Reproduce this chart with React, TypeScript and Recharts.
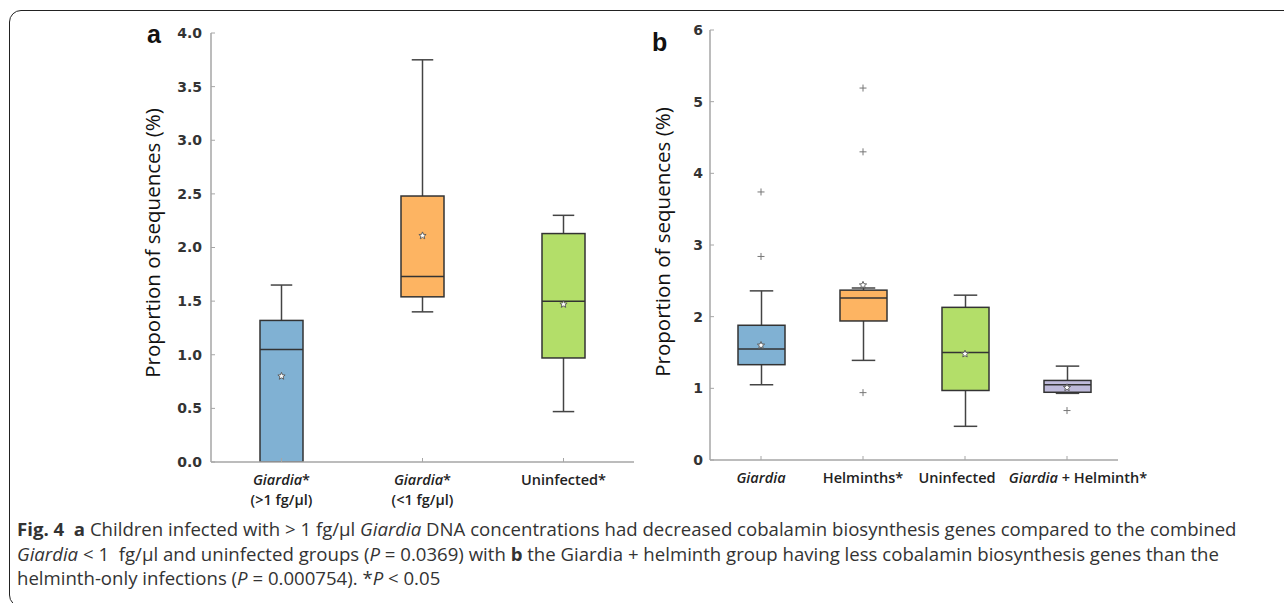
import React from 'react';
import { ComposedChart, Bar, Scatter, XAxis, YAxis } from 'recharts';

// panel a
const catsA = ['Giardia >1', 'Giardia <1', 'Uninfected'];
const labelsA: [string, string, string][] = [
  ['Giardia', '*', '(>1 fg/µl)'],
  ['Giardia', '*', '(<1 fg/µl)'],
  ['', 'Uninfected*', ''],
];
const loA = [0, 1.4, 0.47];
const q1A = [0, 1.54, 0.97];
const medA = [1.05, 1.73, 1.5];
const q3A = [1.32, 2.48, 2.13];
const hiA = [1.65, 3.75, 2.3];
const meanA = [0.8, 2.11, 1.47];
const colorsA = ['#80b1d3', '#fdb462', '#b3de69'];
const ticksA = [0, 0.5, 1, 1.5, 2, 2.5, 3, 3.5, 4];

// panel b
const catsB = ['Giardia', 'Helminths', 'Uninfected', 'Giardia + Helminth'];
const labelsB: [string, string, string][] = [
  ['Giardia', '', ''],
  ['', 'Helminths*', ''],
  ['', 'Uninfected', ''],
  ['Giardia', ' + Helminth*', ''],
];
const loB = [1.05, 1.39, 0.47, 0.93];
const q1B = [1.33, 1.94, 0.97, 0.945];
const medB = [1.55, 2.26, 1.5, 1.05];
const q3B = [1.88, 2.37, 2.13, 1.11];
const hiB = [2.36, 2.4, 2.3, 1.31];
const meanB = [1.6, 2.44, 1.48, 1.01];
const outliersB = [[3.74, 2.84], [5.19, 4.3, 0.94], [], [0.69]];
const colorsB = ['#80b1d3', '#fdb462', '#b3de69', '#bebada'];
const ticksB = [0, 1, 2, 3, 4, 5, 6];

// label nudges so the long labels don't collide
const shiftA = [0, 0, 0];
const shiftB = [0, 0, -8, 11];

function buildRows(cats: string[], lo: number[], q1: number[], med: number[], q3: number[], hi: number[], mean: number[], colors: string[], labels: [string, string, string][], shift: number[], outs?: number[][]) {
  return cats.map((name, i) => ({
    name,
    range: [lo[i], hi[i]],
    lo: lo[i], q1: q1[i], med: med[i], q3: q3[i], hi: hi[i],
    mean: mean[i],
    color: colors[i],
    label: labels[i],
    shift: shift[i],
    o1: outs?.[i]?.[0] ?? null,
    o2: outs?.[i]?.[1] ?? null,
    o3: outs?.[i]?.[2] ?? null,
  }));
}

const dataA = buildRows(catsA, loA, q1A, medA, q3A, hiA, meanA, colorsA, labelsA, shiftA);
const dataB = buildRows(catsB, loB, q1B, medB, q3B, hiB, meanB, colorsB, labelsB, shiftB, outliersB);

const AXIS = '#a6a6a6';
const EDGE = '#333';

function BoxShape(props: any) {
  const { x, y, width, height, payload } = props;
  if (x == null || y == null) return null;
  const top = Math.min(y, y + height);
  const bot = Math.max(y, y + height);
  const { lo, hi, q1, q3, med } = payload;
  const px = (v: number) => top + ((hi - v) / (hi - lo)) * (bot - top);
  const cx = x + width / 2;
  const cap = width / 2;
  return (
    <g>
      <line x1={cx} x2={cx} y1={px(hi)} y2={px(q3)} stroke="#444" strokeWidth={1.5} />
      <line x1={cx} x2={cx} y1={px(q1)} y2={px(lo)} stroke="#444" strokeWidth={1.5} />
      <line x1={cx - cap / 2} x2={cx + cap / 2} y1={px(hi)} y2={px(hi)} stroke="#444" strokeWidth={1.5} />
      <line x1={cx - cap / 2} x2={cx + cap / 2} y1={px(lo)} y2={px(lo)} stroke="#444" strokeWidth={1.5} />
      <rect x={x} y={px(q3)} width={width} height={px(q1) - px(q3)} fill={payload.color} stroke={EDGE} strokeWidth={1.5} />
      <line x1={x} x2={x + width} y1={px(med)} y2={px(med)} stroke={EDGE} strokeWidth={1.5} />
    </g>
  );
}

function StarShape(props: any) {
  const { cx, cy } = props;
  if (cx == null || cy == null) return null;
  const pts: string[] = [];
  for (let i = 0; i < 10; i++) {
    const r = i % 2 === 0 ? 3.8 : 1.7;
    const a = -Math.PI / 2 + (i * Math.PI) / 5;
    pts.push(`${cx + r * Math.cos(a)},${cy + r * Math.sin(a)}`);
  }
  return <polygon points={pts.join(' ')} fill="#fff" stroke="#555" strokeWidth={0.9} />;
}

function plusShape(key: string) {
  return (props: any) => {
    const { cx, cy, payload } = props;
    if (payload?.[key] == null || cx == null || cy == null) return null;
    return (
      <g stroke="#777" strokeWidth={1}>
        <line x1={cx - 3.5} x2={cx + 3.5} y1={cy} y2={cy} />
        <line x1={cx} x2={cx} y1={cy - 3.5} y2={cy + 3.5} />
      </g>
    );
  };
}

function CatTick(props: any) {
  const { x, y, payload, rows } = props;
  const row = rows.find((r: any) => r.name === payload.value);
  if (!row) return null;
  const [it, rest, second] = row.label;
  const tx = x + row.shift;
  return (
    <text x={tx} y={y + 25} textAnchor="middle" fontFamily="'Open Sans'" fontSize={14.5} fontWeight={600} fill="#222">
      <tspan>
        {it && <tspan fontStyle="italic">{it}</tspan>}
        {rest && <tspan>{rest}</tspan>}
      </tspan>
      {second && (
        <tspan x={tx} dy={20}>
          {second}
        </tspan>
      )}
    </text>
  );
}

const tickStyle = { fill: '#333', fontSize: 14, fontWeight: 700, fontFamily: 'DejaVu Sans' };

function Panel({ data, ticks, domain, width, height, margin, barSize, fmt, tickMargin }: any) {
  return (
    <ComposedChart width={width} height={height} data={data} margin={margin}>
      <XAxis
        dataKey="name"
        type="category"
        allowDuplicatedCategory={false}
        axisLine={{ stroke: AXIS, strokeWidth: 1.5 }}
        tickLine={{ stroke: AXIS }}
        tickSize={-4}
        tick={<CatTick rows={data} />}
        height={50}
        interval={0}
      />
      <YAxis
        type="number"
        domain={domain}
        ticks={ticks}
        width={40}
        axisLine={{ stroke: AXIS, strokeWidth: 1.5 }}
        tickLine={{ stroke: AXIS }}
        tickSize={-4}
        tickMargin={tickMargin}
        tick={tickStyle}
        tickFormatter={fmt}
        allowDataOverflow
      />
      <Bar dataKey="range" barSize={barSize} shape={<BoxShape />} isAnimationActive={false} />
      <Scatter dataKey="mean" shape={<StarShape />} isAnimationActive={false} />
      <Scatter dataKey="o1" shape={plusShape('o1')} isAnimationActive={false} />
      <Scatter dataKey="o2" shape={plusShape('o2')} isAnimationActive={false} />
      <Scatter dataKey="o3" shape={plusShape('o3')} isAnimationActive={false} />
    </ComposedChart>
  );
}

const yLabelStyle: React.CSSProperties = {
  position: 'absolute',
  width: 320,
  textAlign: 'center',
  fontFamily: "'Open Sans'",
  fontSize: 20.5,
  fontWeight: 500,
  color: '#111',
  transform: 'rotate(-90deg)',
  whiteSpace: 'nowrap',
};

const panelLetter: React.CSSProperties = {
  position: 'absolute',
  fontFamily: 'Liberation Sans',
  fontWeight: 700,
  fontSize: 25,
  color: '#111',
};

const capLine: React.CSSProperties = { whiteSpace: 'nowrap', height: 24.5 };

export default function App() {
  return (
    <div style={{ position: 'absolute', left: 0, top: 0, width: 1284, height: 603, overflow: 'hidden', background: '#fff' }}>
      <div
        style={{
          position: 'absolute',
          left: 9,
          top: 10,
          width: 1300,
          height: 597,
          border: '1.5px solid #222',
          borderRadius: 12,
          boxSizing: 'border-box',
        }}
      />
      <div style={{ position: 'absolute', left: 130, top: 20 }}>
        <Panel
          data={dataA}
          ticks={ticksA}
          domain={[0, 4]}
          width={520}
          height={510}
          margin={{ top: 13, right: 16, left: 41, bottom: 18 }}
          barSize={43}
          tickMargin={13}
          fmt={(v: number) => v.toFixed(1)}
        />
      </div>
      <div style={{ position: 'absolute', left: 640, top: 15 }}>
        <Panel
          data={dataB}
          ticks={ticksB}
          domain={[0, 6]}
          width={560}
          height={510}
          margin={{ top: 15, right: 82, left: 30, bottom: 15 }}
          barSize={47}
          tickMargin={11}
          fmt={(v: number) => String(v)}
        />
      </div>
      <div style={{ ...yLabelStyle, left: 152 - 160, top: 244 - 15 }}>Proportion of sequences (%)</div>
      <div style={{ ...yLabelStyle, left: 662 - 160, top: 243 - 15 }}>Proportion of sequences (%)</div>
      <div style={{ ...panelLetter, left: 147, top: 20 }}>a</div>
      <div style={{ ...panelLetter, left: 652, top: 28 }}>b</div>
      <div
        style={{
          position: 'absolute',
          left: 17,
          top: 517,
          fontFamily: "'Open Sans'",
          fontSize: 18.6,
          lineHeight: '24.5px',
          color: '#333',
        }}
      >
        <div style={capLine}>
          <b>Fig. 4</b>&nbsp; <b>a</b> Children infected with &gt; 1 fg/µl <i>Giardia</i> DNA concentrations had decreased cobalamin biosynthesis genes compared to the combined
        </div>
        <div style={capLine}>
          <i>Giardia</i> &lt; 1&nbsp; fg/µl and uninfected groups (<i>P</i> = 0.0369) with <b>b</b> the Giardia + helminth group having less cobalamin biosynthesis genes than the
        </div>
        <div style={capLine}>
          helminth-only infections (<i>P</i> = 0.000754). *<i>P</i> &lt; 0.05
        </div>
      </div>
    </div>
  );
}
